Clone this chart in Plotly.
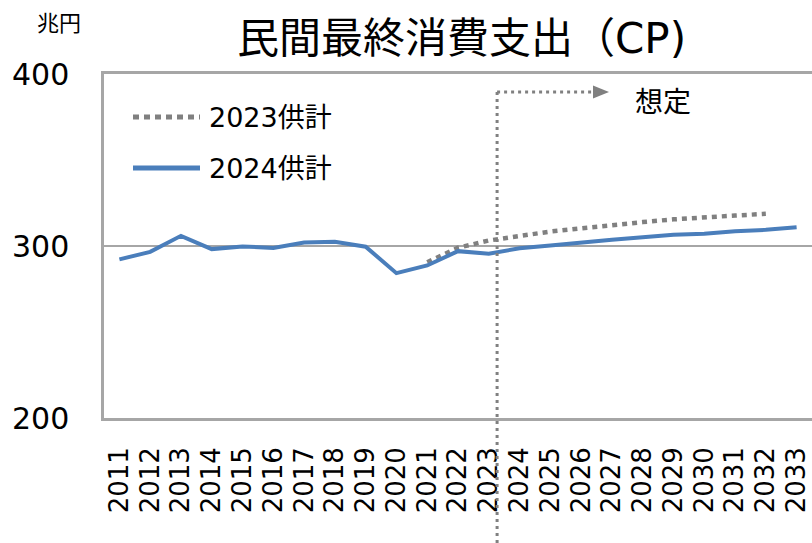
import plotly.graph_objects as go

years = [str(y) for y in range(2011, 2034)]
cp_2024 = [292.2, 296.6, 305.9, 298.2, 299.7, 298.9, 302.0, 302.5, 299.6, 284.2,
           288.7, 297.0, 295.5, 298.7, 300.3, 302.2, 303.6, 305.1, 306.5, 307.1,
           308.6, 309.4, 310.9]
years_2023 = [str(y) for y in range(2021, 2033)]
cp_2023 = [290.6, 299.0, 303.2, 305.9, 308.4, 310.3, 312.4, 313.9, 315.5, 316.8,
           317.7, 318.7]
y_ticks = [200, 300, 400]

W, H = 812, 543
L, R, T, B = 104, 812, 74, 418
GRAY = "#A6A6A6"
DOT = "#808080"
BLUE = "#4A7EBB"
FONT = "DejaVu Sans, Noto Sans CJK JP, sans-serif"


def px(x):
    return (x - L) / (R - L)


def py(y):
    return (B - y) / (B - T)


fig = go.Figure()
fig.add_trace(go.Scatter(x=years_2023, y=cp_2023, mode="lines", name="2023供計",
                         line=dict(color=DOT, width=4.5, dash="5px,5px")))
fig.add_trace(go.Scatter(x=years, y=cp_2024, mode="lines", name="2024供計",
                         line=dict(color=BLUE, width=4)))

shapes = []
# manual legend samples
shapes.append(dict(type="line", xref="paper", yref="paper", x0=px(133), x1=px(200),
                   y0=py(117), y1=py(117), line=dict(color=DOT, width=5, dash="6px,5px")))
shapes.append(dict(type="line", xref="paper", yref="paper", x0=px(133), x1=px(200),
                   y0=py(168), y1=py(168), line=dict(color=BLUE, width=5)))
# forecast boundary
bx = (12.27 + 0.5) / 23
shapes.append(dict(type="line", xref="paper", yref="paper", x0=bx, x1=bx,
                   y0=py(92), y1=py(543), line=dict(color=DOT, width=3, dash="3px,4px")))
shapes.append(dict(type="line", xref="paper", yref="paper", x0=bx, x1=px(594),
                   y0=py(92), y1=py(92), line=dict(color=DOT, width=3, dash="3px,4px")))
shapes.append(dict(type="path", xref="paper", yref="paper",
                   path=f"M {px(593)} {py(85.5)} L {px(609)} {py(92)} L {px(593)} {py(98.5)} Z",
                   fillcolor=DOT, line=dict(width=0)))

annotations = [
    dict(text="民間最終消費支出（CP)", xref="paper", yref="paper", x=px(462), y=py(38),
         showarrow=False, xanchor="center", yanchor="middle",
         font=dict(family=FONT, size=42, color="#000")),
    dict(text="兆円", xref="paper", yref="paper", x=px(59), y=py(21),
         showarrow=False, xanchor="center", yanchor="middle",
         font=dict(family="Noto Sans CJK JP", size=22, color="#000")),
    dict(text="2023供計", xref="paper", yref="paper", x=px(207), y=py(117),
         showarrow=False, xanchor="left", yanchor="middle",
         font=dict(family=FONT, size=27, color="#000")),
    dict(text="2024供計", xref="paper", yref="paper", x=px(207), y=py(168),
         showarrow=False, xanchor="left", yanchor="middle",
         font=dict(family=FONT, size=27, color="#000")),
    dict(text="想定", xref="paper", yref="paper", x=px(663), y=py(100),
         showarrow=False, xanchor="center", yanchor="middle",
         font=dict(family="Noto Sans CJK JP", size=28, color="#000")),
]

fig.update_layout(
    width=W, height=H,
    margin=dict(l=L, r=W - R, t=T, b=H - B),
    paper_bgcolor="white", plot_bgcolor="white",
    showlegend=False,
    shapes=shapes, annotations=annotations,
    xaxis=dict(type="category", categoryorder="array", categoryarray=years,
               tickmode="array", tickvals=years, ticktext=years,
               range=[-0.5, len(years) - 0.5], showgrid=False, zeroline=False,
               showline=True, linecolor=GRAY, linewidth=2.5, mirror=True,
               ticks="", tickangle=-90, ticklabelstandoff=16,
               tickfont=dict(family=FONT, size=26, color="#000")),
    yaxis=dict(range=[200, 400], tickvals=y_ticks, ticktext=[str(v) for v in y_ticks],
               showgrid=True, gridcolor=GRAY, gridwidth=2, zeroline=False,
               showline=True, linecolor=GRAY, linewidth=2.5, ticks="",
               ticklabelstandoff=26,
               tickfont=dict(family=FONT, size=30, color="#000")),
)

fig.write_html("out.html", config={"displayModeBar": False},
               post_script="document.body.style.margin='0';document.body.style.overflow='hidden';")
